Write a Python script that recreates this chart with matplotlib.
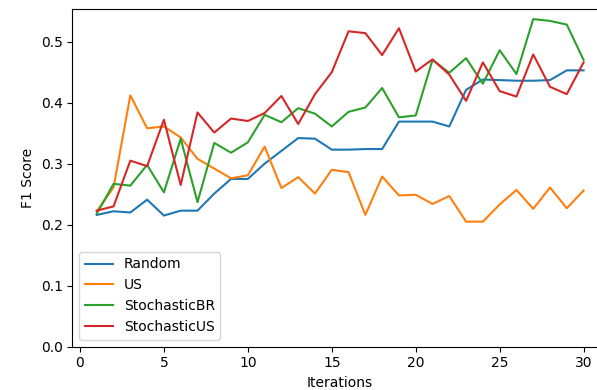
import matplotlib
matplotlib.use("Agg")
import matplotlib.pyplot as plt

iterations = list(range(1, 31))
random_f1 = [0.216, 0.222, 0.220, 0.241, 0.215, 0.223, 0.223, 0.251, 0.275, 0.275,
             0.300, 0.321, 0.342, 0.341, 0.323, 0.323, 0.324, 0.324, 0.369, 0.369,
             0.369, 0.361, 0.421, 0.438, 0.437, 0.436, 0.436, 0.437, 0.453, 0.453]
us_f1 = [0.222, 0.261, 0.412, 0.358, 0.361, 0.343, 0.308, 0.292, 0.276, 0.281,
         0.328, 0.260, 0.278, 0.251, 0.290, 0.286, 0.216, 0.279, 0.248, 0.249,
         0.234, 0.247, 0.205, 0.205, 0.233, 0.257, 0.226, 0.261, 0.227, 0.256]
stochastic_br_f1 = [0.218, 0.267, 0.264, 0.298, 0.253, 0.341, 0.237, 0.334, 0.318, 0.335,
                    0.380, 0.368, 0.391, 0.382, 0.361, 0.385, 0.392, 0.424, 0.376, 0.379,
                    0.470, 0.449, 0.473, 0.431, 0.486, 0.447, 0.537, 0.534, 0.528, 0.470]
stochastic_us_f1 = [0.223, 0.230, 0.305, 0.296, 0.372, 0.265, 0.384, 0.351, 0.374, 0.370,
                    0.383, 0.411, 0.365, 0.414, 0.450, 0.517, 0.514, 0.478, 0.522, 0.451,
                    0.471, 0.446, 0.403, 0.466, 0.419, 0.410, 0.479, 0.426, 0.414, 0.466]

fig = plt.figure(figsize=(5.97, 3.9), dpi=100)
ax = fig.add_axes([0.1213, 0.111, 0.897, 0.866])
ax.plot(iterations, random_f1, label="Random")
ax.plot(iterations, us_f1, label="US")
ax.plot(iterations, stochastic_br_f1, label="StochasticBR")
ax.plot(iterations, stochastic_us_f1, label="StochasticUS")
ax.set_ylim(bottom=0)
ax.set_xlabel("Iterations")
ax.set_ylabel("F1 Score")
ax.legend(loc="lower left")
fig.savefig("out.png", dpi=100)
